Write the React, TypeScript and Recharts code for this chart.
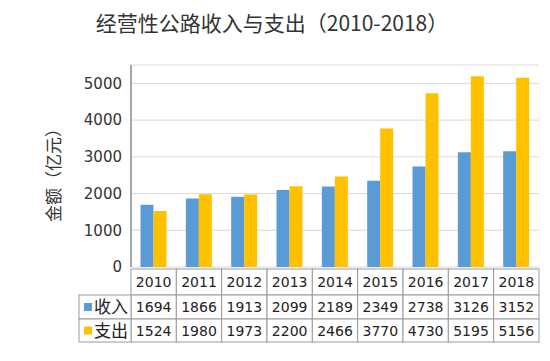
import { BarChart, Bar, XAxis, YAxis, CartesianGrid } from "recharts";

const years = ["2010", "2011", "2012", "2013", "2014", "2015", "2016", "2017", "2018"];
const income = [1694, 1866, 1913, 2099, 2189, 2349, 2738, 3126, 3152];
const expense = [1524, 1980, 1973, 2200, 2466, 3770, 4730, 5195, 5156];
const yTicks = [0, 1000, 2000, 3000, 4000, 5000];

const BLUE = "#5B9BD5";
const ORANGE = "#FFC000";
const BORDER = "#9a9a9a";

const data = years.map((y, i) => ({ year: y, income: income[i], expense: expense[i] }));

const COL_W = (550 - 131 - 11) / years.length;
const ROWS = [2, 28, 52, 75]; // row edges below the axis

const TableTick = (props: any) => {
  const { x, y, payload, index } = props;
  const i = payload?.index ?? index;
  const left = x - COL_W / 2;
  const cells = [payload.value, String(income[i]), String(expense[i])];
  return (
    <g>
      {cells.map((t, r) => (
        <g key={r}>
          <rect
            x={left}
            y={y + ROWS[r]}
            width={COL_W}
            height={ROWS[r + 1] - ROWS[r]}
            fill="#fff"
            stroke={BORDER}
            strokeWidth={1}
          />
          <text
            x={x}
            y={y + (ROWS[r] + ROWS[r + 1]) / 2 + 5}
            textAnchor="middle"
            fontSize={14}
            fontFamily="DejaVu Sans"
            fill="#222"
          >
            {t}
          </text>
        </g>
      ))}
      {i === 0 &&
        [
          { name: "收入", color: BLUE },
          { name: "支出", color: ORANGE },
        ].map((s, r) => {
          const lx = left - 52;
          const ty = y + ROWS[r + 1];
          const h = ROWS[r + 2] - ROWS[r + 1];
          return (
            <g key={s.name}>
              <rect x={lx} y={ty} width={52} height={h} fill="#fff" stroke={BORDER} strokeWidth={1} />
              <rect x={lx + 5} y={ty + h / 2 - 4} width={8} height={8} fill={s.color} />
              <text
                x={lx + 15}
                y={ty + h / 2 + 6}
                fontSize={17}
                fontFamily="Noto Sans CJK SC"
                fill="#222"
              >
                {s.name}
              </text>
            </g>
          );
        })}
    </g>
  );
};

const YLabel = (props: any) => {
  const vb = props.viewBox || {};
  const cy = vb.y + vb.height / 2 + 5;
  const cx = 52;
  return (
    <text
      x={cx}
      y={cy}
      transform={`rotate(-90 ${cx} ${cy})`}
      textAnchor="middle"
      dominantBaseline="central"
      fontSize={17}
      fontFamily="Noto Sans CJK SC"
      fill="#333"
    >
      金额（亿元）
    </text>
  );
};

export default function App() {
  return (
    <div style={{ position: "absolute", left: 0, top: 0, width: 550, height: 361, background: "#fff" }}>
      <div
        style={{
          position: "absolute",
          left: 0,
          top: 8,
          width: 544,
          textAlign: "center",
          fontFamily: "Noto Sans CJK SC",
          fontSize: 21,
          color: "#333",
          lineHeight: "28px",
        }}
      >
        经营性公路收入与支出（2010-2018）
      </div>
      <BarChart
        width={550}
        height={361}
        data={data}
        margin={{ top: 65, right: 11, left: 0, bottom: 14 }}
        barCategoryGap="21%"
        barGap={0}
      >
        <CartesianGrid vertical={false} stroke="#d9d9d9" />
        <XAxis
          dataKey="year"
          height={80}
          axisLine={false}
          tickLine={false}
          tickSize={0}
          tickMargin={0}
          interval={0}
          tick={<TableTick />}
        />
        <YAxis
          width={131}
          domain={[0, 5500]}
          ticks={yTicks}
          axisLine={{ stroke: "#a6a6a6", strokeWidth: 2 }}
          tickLine={false}
          tickMargin={3}
          tick={{ fontSize: 15, fontFamily: "DejaVu Sans", fill: "#333" }}
          label={<YLabel />}
        />
        <Bar dataKey="income" fill={BLUE} isAnimationActive={false} />
        <Bar dataKey="expense" fill={ORANGE} isAnimationActive={false} />
      </BarChart>
    </div>
  );
}
